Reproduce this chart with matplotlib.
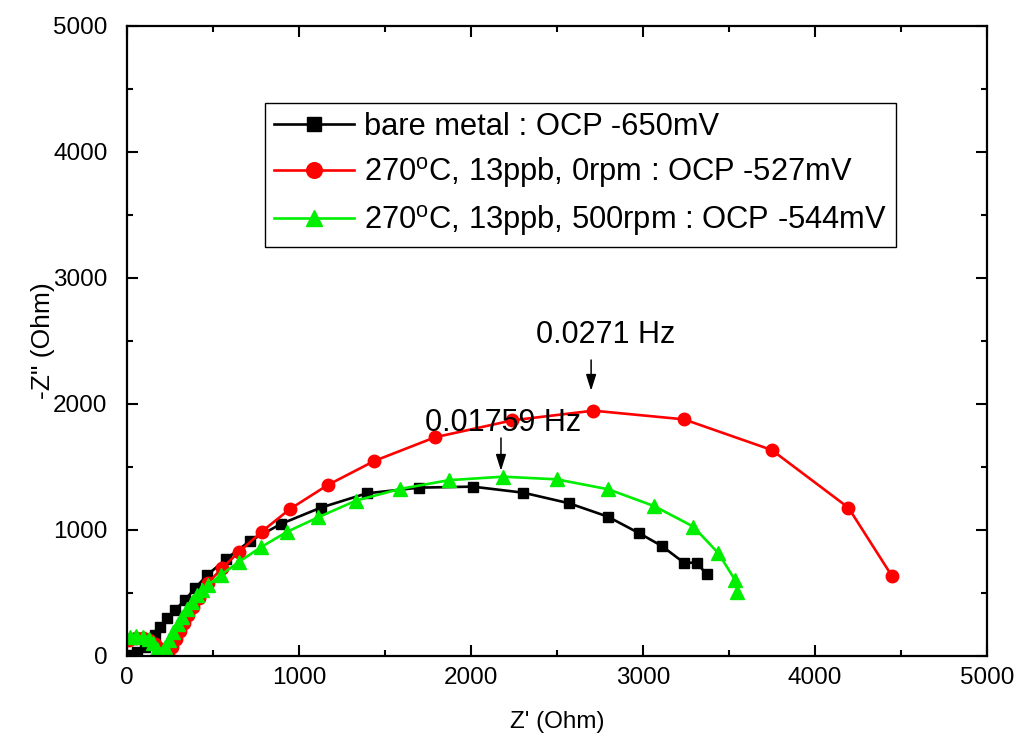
import matplotlib
matplotlib.use("Agg")
from matplotlib import pyplot as plt
from matplotlib import ticker

plt.rcParams['font.family'] = ['Liberation Sans', 'DejaVu Sans']
plt.rcParams['mathtext.default'] = 'regular'

# bare metal : OCP -650mV
bare_zre = [15, 60, 105, 140, 163, 192, 231, 279, 337, 395, 467, 576, 715, 895,
            1126, 1394, 1699, 2010, 2304, 2570, 2795, 2978, 3109, 3238, 3312, 3370]
bare_zim = [10, 35, 75, 120, 167, 233, 299, 365, 444, 537, 643, 770, 913, 1048,
            1177, 1291, 1336, 1344, 1296, 1212, 1106, 974, 873, 740, 740, 648]

# 270C, 13ppb, 0rpm : OCP -527mV
rpm0_zre = [10, 50, 90, 130, 165, 195, 220, 240, 260, 283, 307, 331, 356, 384,
            418, 473, 551, 653, 783, 948, 1167, 1438, 1791, 2240, 2711, 3238,
            3748, 4194, 4446]
rpm0_zim = [130, 140, 140, 125, 95, 55, 20, 5, 70, 135, 200, 262, 325, 390,
            460, 582, 696, 828, 987, 1167, 1357, 1548, 1736, 1870, 1947, 1878,
            1635, 1177, 637]

# 270C, 13ppb, 500rpm : OCP -544mV
rpm500_zre = [15, 50, 90, 125, 150, 172, 190, 202, 218, 242, 268, 294, 320, 347,
              375, 405, 437, 470, 545, 653, 777, 932, 1112, 1331, 1585, 1870,
              2185, 2498, 2798, 3064, 3293, 3438, 3535, 3549]
rpm500_zim = [150, 155, 150, 135, 100, 55, 18, 5, 70, 130, 190, 250, 310, 370,
              430, 480, 520, 560, 643, 749, 862, 987, 1101, 1233, 1325, 1395,
              1423, 1402, 1323, 1190, 1026, 815, 603, 510]

labels = ['bare metal : OCP -650mV',
          r'270$^{o}$C, 13ppb, 0rpm : OCP -527mV',
          r'270$^{o}$C, 13ppb, 500rpm : OCP -544mV']

# frequency callouts: (text, text position, arrow tail, arrow tip)
callouts = [('0.0271 Hz', (2785, 2548), (2698, 2349), (2698, 2105)),
            ('0.01759 Hz', (2186, 1849), (2174, 1730), (2174, 1470))]

fig = plt.figure(figsize=(10.18, 7.49), dpi=100)
ax = fig.add_axes([0.1248, 0.1242, 0.8448, 0.8411])

ax.plot(bare_zre, bare_zim, '-s', color='black', lw=1.9, ms=7.5, label=labels[0])
ax.plot(rpm0_zre, rpm0_zim, '-o', color='#ff0000', lw=1.9, ms=9, label=labels[1])
ax.plot(rpm500_zre, rpm500_zim, '-^', color='#00ee00', lw=1.9, ms=9.5, label=labels[2])

ax.set_xlim(0, 5000)
ax.set_ylim(0, 5000)
ax.xaxis.set_major_locator(ticker.MultipleLocator(1000))
ax.yaxis.set_major_locator(ticker.MultipleLocator(1000))
ax.xaxis.set_minor_locator(ticker.MultipleLocator(500))
ax.yaxis.set_minor_locator(ticker.MultipleLocator(500))
ax.tick_params(which='both', direction='in', top=True, right=True, width=1.5,
               labelsize=17.5)
ax.tick_params(axis='x', which='both', pad=8)
ax.tick_params(axis='y', which='both', pad=14)
ax.tick_params(which='major', length=8)
ax.tick_params(which='minor', length=4)
for s in ax.spines.values():
    s.set_linewidth(1.6)

ax.set_xlabel("Z' (Ohm)", fontsize=17.5, labelpad=16)
ax.set_ylabel('-Z" (Ohm)', fontsize=19, labelpad=-1)

for text, xy_text, tail, tip in callouts:
    ax.text(*xy_text, text, ha='center', va='center', fontsize=22)
    ax.annotate('', xy=tip, xytext=tail,
                arrowprops=dict(arrowstyle='-|>,head_length=0.7,head_width=0.22',
                                color='black', lw=1.1, shrinkA=0, shrinkB=0,
                                mutation_scale=14))

leg = ax.legend(loc='upper left', bbox_to_anchor=(0.1605, 0.878), fontsize=22.2,
                frameon=True, fancybox=False, edgecolor='black', handlelength=2.6,
                borderpad=0.3, labelspacing=0.42, handletextpad=0.3,
                borderaxespad=0, framealpha=1, markerscale=1.25)
leg.get_frame().set_linewidth(1.0)

fig.savefig('out.png', dpi=100)
